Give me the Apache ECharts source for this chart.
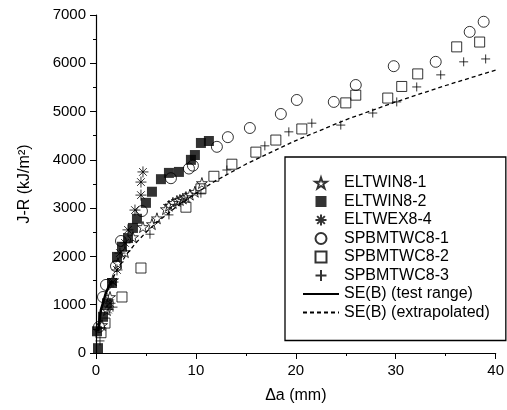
<!DOCTYPE html>
<html><head><meta charset="utf-8">
<script src="https://cdn.jsdelivr.net/npm/echarts@6/dist/echarts.min.js"></script>
<style>html,body{margin:0;padding:0;background:#fff}#c{width:507px;height:410px}</style>
</head><body><div id="c"></div>
<script>
// Series data [Δa (mm), J-R (kJ/m²)]
const eltwin81 = [[0.6,580],[1.1,890],[1.4,1160],[1.7,1510],[2.2,1860],[2.9,2090],[3.7,2400],[4.7,2610],[5.6,2670],[6.1,2790],[7.0,2980],[7.3,3050],[7.7,3110],[8.1,3150],[8.4,3170],[8.7,3200],[9.0,3230],[9.4,3280],[9.9,3340],[10.6,3520]];
const eltwin82 = [[0.2,100],[0.1,450],[0.7,750],[1.1,1030],[1.6,1450],[2.1,1990],[2.6,2200],[3.2,2380],[3.7,2590],[4.1,2780],[5.0,3110],[5.6,3340],[6.5,3600],[7.3,3730],[8.3,3750],[9.5,4000],[9.9,4100],[10.5,4350],[11.3,4390]];
const eltwex84 = [[1.2,900],[1.4,1030],[1.7,1470],[2.1,1720],[2.4,2070],[2.9,2280],[3.2,2550],[3.9,2960],[4.5,3270],[4.5,3540],[4.7,3750]];
const spbmtwc81 = [[0.3,540],[0.7,1160],[1.0,1410],[2.0,1800],[2.5,2320],[4.6,2940],[7.5,3620],[9.3,3820],[9.7,3880],[12.1,4270],[13.2,4470],[15.4,4660],[18.5,4950],[20.1,5240],[23.8,5200],[26.0,5550],[29.8,5940],[34.0,6030],[37.4,6650],[38.8,6860]];
const spbmtwc82 = [[0.5,420],[0.9,620],[2.6,1160],[4.5,1760],[9.0,3020],[10.5,3400],[11.8,3660],[13.6,3910],[16.0,4160],[18.0,4410],[20.6,4640],[25.0,5180],[26.0,5340],[29.2,5280],[30.6,5520],[32.2,5780],[36.1,6340],[38.4,6440]];
const spbmtwc83 = [[0.4,250],[1.7,950],[5.4,2460],[7.3,2860],[10.5,3310],[13.1,3790],[16.9,4290],[19.3,4580],[21.6,4760],[24.5,4720],[27.7,4970],[30.1,5200],[32.1,5510],[34.5,5760],[36.8,6030],[39.0,6090]];
const seTest = [[0.2,450],[0.5,900],[1,1250],[1.5,1480]];
const seExtrap = [[0.2,450],[0.5,900],[1,1250],[2,1680],[3,2030],[4,2280],[5,2500],[6,2690],[8,3020],[10,3310],[12,3570],[15,3910],[20,4400],[25,4830],[30,5200],[35,5540],[40,5860]];
const xTicks = {min:0, max:40, interval:10};
const yTicks = {min:0, max:7000, interval:1000};
const names = ['ELTWIN8-1','ELTWIN8-2','ELTWEX8-4','SPBMTWC8-1','SPBMTWC8-2','SPBMTWC8-3','SE(B) (test range)','SE(B) (extrapolated)'];

const FONT = 'Liberation Sans, Arial, sans-serif';
const STAR = 'path://M50,0 L61.8,35.5 L99,35.5 L69,57.5 L80.5,93 L50,71 L19.5,93 L31,57.5 L1,35.5 L38.2,35.5 Z';
const ASTER = 'path://M0,50 L100,50 M50,0 L50,100 M15,15 L85,85 M85,15 L15,85';
const PLUS = 'path://M0,50 L100,50 M50,0 L50,100';
const SQUARE = 'path://M0,0 L100,0 L100,100 L0,100 Z';
const hollow = {color:'none', borderColor:'#000', borderWidth:1};

const axisCommon = {
  axisLine:{show:true, lineStyle:{color:'#000', width:1.2}},
  axisTick:{show:true, inside:false, length:6, lineStyle:{color:'#000', width:1}},
  minorTick:{show:true, splitNumber:2, length:3, lineStyle:{color:'#000', width:1}},
  splitLine:{show:false},
  axisLabel:{color:'#000', fontSize:15, fontFamily:FONT, margin:10, formatter:(v)=>String(v)},
  nameTextStyle:{color:'#000', fontSize:16, fontFamily:FONT},
  nameLocation:'middle'
};

const chart = echarts.init(document.getElementById('c'), null, {renderer:'canvas'});
chart.setOption({
  animation:false,
  backgroundColor:'#fff',
  grid:{left:96, right:9, top:15, bottom:57, containLabel:false},
  xAxis:Object.assign({}, axisCommon, {type:'value', min:xTicks.min, max:xTicks.max, interval:xTicks.interval,
    name:'Δa (mm)', nameGap:35}),
  yAxis:Object.assign({}, axisCommon, {type:'value', min:yTicks.min, max:yTicks.max, interval:yTicks.interval,
    name:'J-R (kJ/m²)', nameGap:63, nameRotate:90}),
  legend:{
    orient:'vertical', left:285, top:157,
    padding:[18,16,20,17],
    itemWidth:36, itemHeight:11, itemGap:2.5,
    borderColor:'#000', borderWidth:1.3, backgroundColor:'#fff',
    textStyle:{color:'#000', fontSize:16, fontFamily:FONT},
    data:names, selectedMode:false
  },
  series:[
    {name:names[7], type:'line', data:seExtrap, symbol:'none', z:1, itemStyle:{color:'#000', opacity:0}, lineStyle:{color:'#000', width:1.3, type:[4,3], opacity:1}},
    {name:names[6], type:'line', data:seTest, symbol:'none', z:1, itemStyle:{color:'#000', opacity:0}, lineStyle:{color:'#000', width:2.5, opacity:1}},
    {name:names[0], type:'scatter', data:eltwin81, symbol:STAR, symbolSize:11, itemStyle:hollow, z:3},
    {name:names[1], type:'scatter', data:eltwin82, symbol:SQUARE, symbolSize:10, itemStyle:{color:'#000'}, z:3},
    {name:names[2], type:'scatter', data:eltwex84, symbol:ASTER, symbolSize:11, itemStyle:hollow, z:3},
    {name:names[3], type:'scatter', data:spbmtwc81, symbol:'circle', symbolSize:11, itemStyle:hollow, z:3},
    {name:names[4], type:'scatter', data:spbmtwc82, symbol:SQUARE, symbolSize:10, itemStyle:hollow, z:3},
    {name:names[5], type:'scatter', data:spbmtwc83, symbol:PLUS, symbolSize:9, itemStyle:hollow, z:3}
  ]
});
</script></body></html>
